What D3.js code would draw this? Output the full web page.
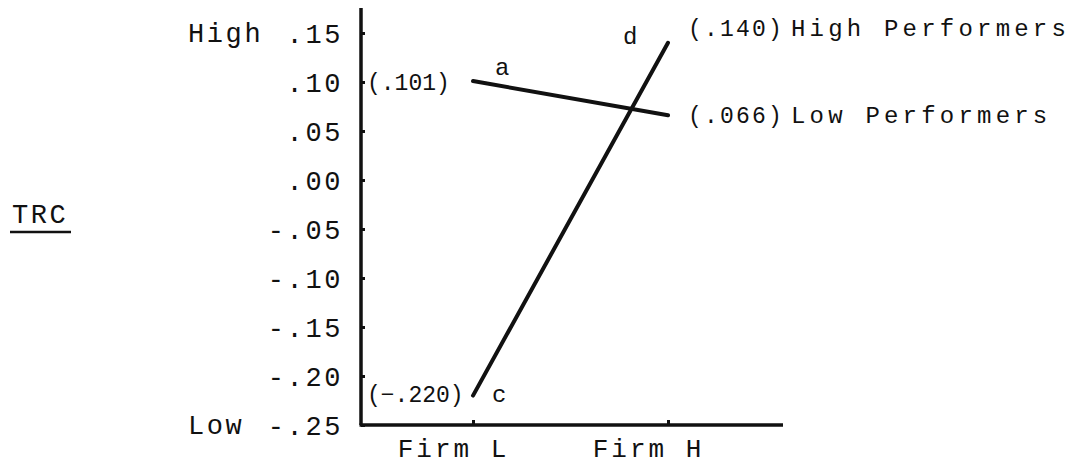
<!DOCTYPE html>
<html>
<head>
<meta charset="utf-8">
<script src="https://cdn.jsdelivr.net/npm/d3@7"></script>
<style>
  html, body { margin: 0; padding: 0; background: #fff; }
  svg { display: block; }
  text { font-family: "Liberation Mono", "DejaVu Sans Mono", monospace; fill: #111; }
</style>
</head>
<body>
<svg id="chart" width="1091" height="468"></svg>
<script>
// Firms on the horizontal axis
const firms = ["Firm L", "Firm H"];

// TRC at each firm, by performer group
const seriesNames = ["Low Performers", "High Performers"];
const lowPerformers = [0.101, 0.066];
const highPerformers = [-0.220, 0.140];
const pointTags = [["a", null], ["c", "d"]];

// Vertical axis ticks and their printed labels
const tickValues = [0.15, 0.10, 0.05, 0.00, -0.05, -0.10, -0.15, -0.20, -0.25];
const tickLabels = [".15", ".10", ".05", ".00", "-.05", "-.10", "-.15", "-.20", "-.25"];
const yTitle = "TRC";

const svg = d3.select("#chart");
const ink = "#111";

const axisX = 361;
const axisTop = 8;
const axisRight = 783;

const y = d3.scaleLinear().domain([-0.25, 0.15]).range([425, 33]);
const x = d3.scalePoint().domain(firms).range([473, 668]);

const fmt = v => "(" + d3.format(".3f")(v).replace("0.", ".") + ")";

// Y axis: inward nubs with typed labels
const yAxis = d3.axisLeft(y)
  .tickValues(tickValues)
  .tickSize(-4)
  .tickPadding(18)
  .tickFormat((d, i) => tickLabels[i]);

const gy = svg.append("g").attr("transform", `translate(${axisX},0)`).call(yAxis);
gy.select(".domain").remove();
gy.selectAll(".tick line").attr("stroke", ink).attr("stroke-width", 3);
gy.selectAll(".tick text")
  .attr("font-size", 27)
  .attr("letter-spacing", 2.6)
  .attr("dy", "0.36em")
  .style("font-family", '"Liberation Mono", monospace')
  .attr("fill", ink);

// Axis frame
svg.append("line")
  .attr("x1", axisX).attr("x2", axisX)
  .attr("y1", axisTop).attr("y2", y(-0.25))
  .attr("stroke", ink).attr("stroke-width", 3.5);

svg.append("line")
  .attr("x1", axisX - 1.5).attr("x2", axisRight)
  .attr("y1", y(-0.25)).attr("y2", y(-0.25))
  .attr("stroke", ink).attr("stroke-width", 3.5);

// X axis: small upward nubs and firm names
const xAxis = d3.axisBottom(x).tickSize(-5).tickPadding(14);
const gx = svg.append("g").attr("transform", `translate(0,${y(-0.25)})`).call(xAxis);
gx.select(".domain").remove();
gx.selectAll(".tick line").attr("stroke", ink).attr("stroke-width", 3);
gx.selectAll(".tick text")
  .attr("font-size", 26)
  .attr("letter-spacing", 3)
  .attr("dx", -20)
  .attr("dy", "0.71em")
  .style("font-family", '"Liberation Mono", monospace')
  .attr("fill", ink);

// High / Low anchors on the scale
svg.append("text").attr("x", 188).attr("y", y(0.15) + 9)
  .attr("font-size", 27).attr("letter-spacing", 2.6).text("High");
svg.append("text").attr("x", 188).attr("y", y(-0.25) + 9)
  .attr("font-size", 27).attr("letter-spacing", 2.6).text("Low");

// Axis title, underlined
svg.append("text").attr("x", 12).attr("y", 223)
  .attr("font-size", 27).attr("letter-spacing", 2.6).text(yTitle);
svg.append("line")
  .attr("x1", 10).attr("x2", 71).attr("y1", 232).attr("y2", 232)
  .attr("stroke", ink).attr("stroke-width", 2.5);

// Interaction lines
const line = d3.line().x((d, i) => x(firms[i])).y(d => y(d));
const series = [lowPerformers, highPerformers];
svg.selectAll("path.series")
  .data(series)
  .join("path")
  .attr("class", "series")
  .attr("d", d => line(d))
  .attr("fill", "none")
  .attr("stroke", ink)
  .attr("stroke-width", 4)
  .attr("stroke-linecap", "round");

// Value labels at Firm L (left of the line start)
svg.append("text").attr("x", 367).attr("y", y(lowPerformers[0]) + 9)
  .attr("font-size", 23).text(fmt(lowPerformers[0]));
svg.append("text").attr("x", 367).attr("y", y(highPerformers[0]) + 6)
  .attr("font-size", 23).text(fmt(highPerformers[0]));

// Cell tags
svg.append("text").attr("x", x(firms[0]) + 22).attr("y", y(lowPerformers[0]) - 6)
  .attr("font-size", 24).text(pointTags[0][0]);
svg.append("text").attr("x", x(firms[0]) + 19).attr("y", y(highPerformers[0]) + 6)
  .attr("font-size", 24).text(pointTags[1][0]);
svg.append("text").attr("x", x(firms[1]) - 45).attr("y", y(highPerformers[1]) + 1)
  .attr("font-size", 24).text(pointTags[1][1]);

// Value + group labels at Firm H
const endLabels = [
  { v: highPerformers[1], name: seriesNames[1], dy: -7 },
  { v: lowPerformers[1], name: seriesNames[0], dy: 8 }
];
endLabels.forEach(l => {
  svg.append("text").attr("x", 688).attr("y", y(l.v) + l.dy)
    .attr("font-size", 23).attr("letter-spacing", 2.2).text(fmt(l.v));
  svg.append("text").attr("x", 791).attr("y", y(l.v) + l.dy)
    .attr("font-size", 24).attr("letter-spacing", 4.2).text(l.name);
});
</script>
</body>
</html>
